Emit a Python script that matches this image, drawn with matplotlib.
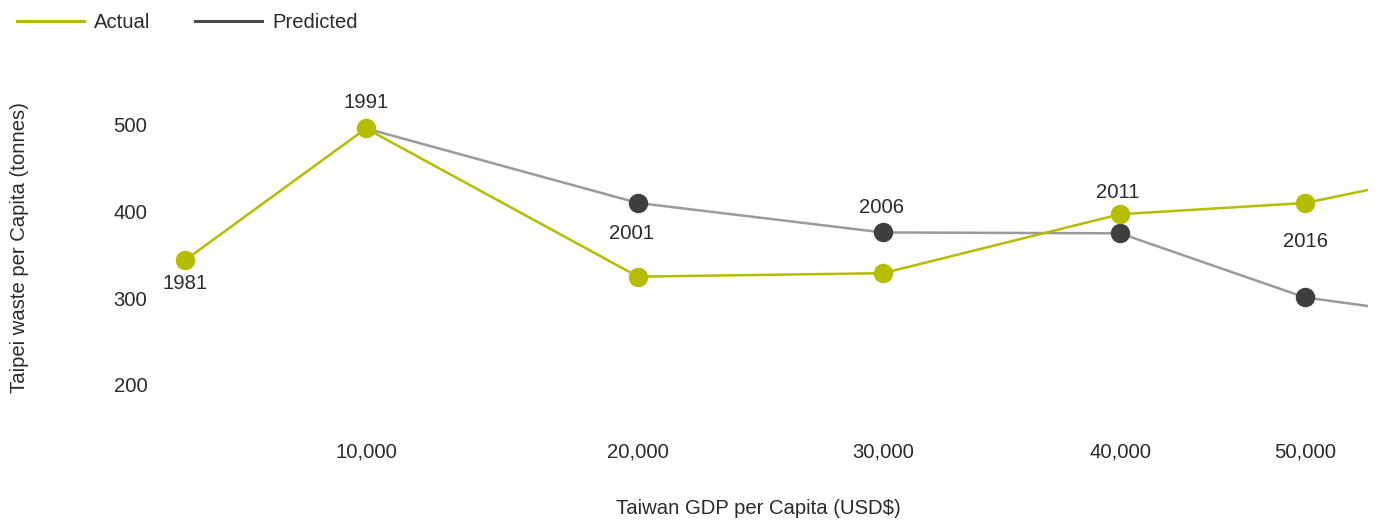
import matplotlib
matplotlib.use("Agg")
import matplotlib.pyplot as plt
from matplotlib.lines import Line2D
import numpy as np

plt.rcParams['font.family'] = ['Liberation Sans', 'DejaVu Sans']

# data
years = ["1981", "1991", "2001", "2006", "2011", "2016", "2021"]
gdp = [3350, 10000, 20000, 30000, 40000, 50000, 60000]
actual = [344, 496, 325, 329, 397, 410, 454]
predicted = [np.nan, 496, 410, 376, 375, 301, 272]
x_ticks = [10000, 20000, 30000, 40000, 50000]
x_tick_labels = ["10,000", "20,000", "30,000", "40,000", "50,000"]
y_ticks = [200, 300, 400, 500]

green = "#b5bd00"
grey_line = "#9a9a9c"
grey_dot = "#3f3f42"
text_col = "#2b2b2b"
fs = 14.6

# the original axis is not evenly spaced, so map gdp onto a piecewise scale
knots_gdp = [-10000, 0, 10000, 20000, 30000, 40000, 50000, 60000, 70000]
knots_pos = [-178, 94, 366, 638, 883, 1120, 1305, 1490, 1675]

def forward(x):
    return np.interp(x, knots_gdp, knots_pos)

def inverse(p):
    return np.interp(p, knots_pos, knots_gdp)

W, H = 1381, 523
fig = plt.figure(figsize=(W / 100, H / 100), dpi=100)
ax = fig.add_axes([160 / W, 1 - 420 / H, (1368 - 160) / W, (420 - 80) / H])
ax.set_xscale('function', functions=(forward, inverse))
ax.set_xlim(inverse(160), inverse(1368))
ax.set_ylim(159.6, 551.9)

ax.plot(gdp, predicted, color=grey_line, lw=1.8, zorder=2)
ax.plot(gdp[2:], predicted[2:], ls='none', marker='o', ms=13,
        color=grey_dot, zorder=4)
ax.plot(gdp, actual, color=green, lw=1.8, marker='o', ms=13,
        zorder=5)

# year labels, offsets (pixels) from the actual points
offsets = [(0, -23), (0, 26), (-7, 43), (-2, 66), (-2, 22), (0, -39)]
for i, (dx, dy) in enumerate(offsets):
    ax.annotate(years[i], (gdp[i], actual[i]), xytext=(dx, dy),
                textcoords='offset pixels', ha='center', va='center',
                fontsize=fs, color=text_col, zorder=6)

ax.set_xticks(x_ticks)
ax.set_xticklabels(x_tick_labels)
ax.set_yticks(y_ticks)
ax.tick_params(axis='x', length=0, pad=16, labelsize=fs, labelcolor=text_col)
ax.tick_params(axis='y', length=0, pad=9, labelsize=fs, labelcolor=text_col)
ax.xaxis.set_minor_locator(matplotlib.ticker.NullLocator())
for s in ax.spines.values():
    s.set_visible(False)

fig.text(758 / W, 1 - 508 / H, "Taiwan GDP per Capita (USD$)", ha='center',
         va='center', fontsize=fs, color=text_col)
fig.text(20 / W, 1 - 248 / H, "Taipei waste per Capita (tonnes)", ha='center',
         va='center', rotation=90, fontsize=fs, color=text_col)

handles = [Line2D([], [], color=green, lw=2.2),
           Line2D([], [], color="#4a4a4c", lw=2.2)]
fig.legend(handles, ["Actual", "Predicted"], loc='upper left',
           bbox_to_anchor=(0.003, 1.0), ncol=2, frameon=False, fontsize=fs,
           handlelength=3.3, handletextpad=0.5, columnspacing=2.2,
           borderaxespad=0.25, labelcolor=text_col)

fig.savefig("out.png", dpi=100)
plt.close(fig)
